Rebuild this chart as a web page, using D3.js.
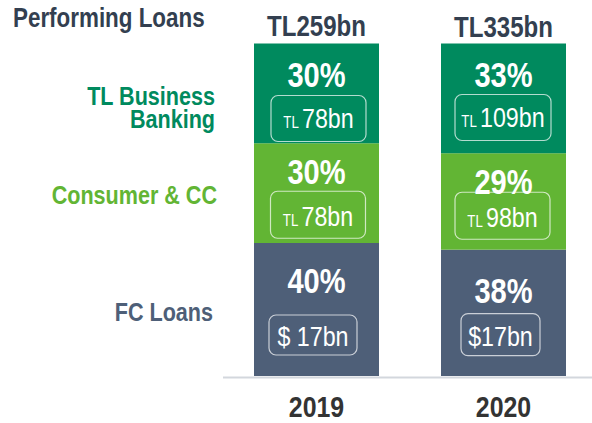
<!DOCTYPE html>
<html>
<head>
<meta charset="utf-8">
<script src="https://cdn.jsdelivr.net/npm/d3@7"></script>
<style>
  body { margin: 0; background: #fff; }
  svg { display: block; }
  text { font-family: "Liberation Sans", Arial, sans-serif; }
</style>
</head>
<body>
<script>
    // chart data
    var years = ["2019", "2020"]
    var totals = ["TL259bn", "TL335bn"]
    var segments = ["fc", "consumer", "business"]   // bottom to top
    var segmentNames = ["FC Loans", "Consumer & CC", "TL Business Banking"]
    var share2019 = [40, 30, 30]
    var share2020 = [38, 29, 33]
    var amountCcy = [["$", "TL", "TL"], ["$", "TL", "TL"]]
    var amount2019 = [" 17bn", "78bn", "78bn"]
    var amount2020 = ["17bn", "98bn", "109bn"]

    var colors = { business: "#008a5e", consumer: "#62b534", fc: "#4e5f78" }

    var width = 592, height = 423
    var squeeze = 0.83   // fake the narrow face of the original deck

    // label placement inside segments: [year][segment] offsets from segment top
    var pctOffset = [[50, 41, 44], [53, 41, 44]]
    var boxOffset = [[72, 48, 52], [64, 39, 51]]
    var boxSize = [[[88, 40], [95, 47], [95, 46]], [[79, 42], [95, 47], [96, 46]]]
    var boxShift = [[-3.5, 1.5, 2], [-3, -1, -0.5]]
    var amtOffset = [[31, 35, 33], [32, 35, 33]]

    var svg = d3.select("body").append("svg")
        .attr("width", width)
        .attr("height", height)

    var x = d3.scaleBand().domain(years).range([254, 566]).paddingInner(0.3316).paddingOuter(0)
    var y = d3.scaleLinear().domain([0, 100]).range([376, 43.5])

    var rows = years.map(function (yr, i) {
        var shares = i == 0 ? share2019 : share2020
        var amts = i == 0 ? amount2019 : amount2020
        var o = { year: yr, idx: i }
        segments.forEach(function (s, j) { o[s] = shares[j] })
        o.amts = amts
        o.ccy = amountCcy[i]
        return o
    })

    var stacked = d3.stack().keys(segments)(rows)

    // bars
    var layer = svg.selectAll(".layer")
        .data(stacked)
        .enter().append("g")
        .attr("fill", function (d) { return colors[d.key] })

    layer.selectAll("rect")
        .data(function (d) { return d })
        .enter().append("rect")
        .attr("x", function (d) { return x(d.data.year) })
        .attr("width", x.bandwidth())
        .attr("y", function (d) { return y(d[1]) })
        .attr("height", function (d) { return y(d[0]) - y(d[1]) })

    // labels inside each segment
    stacked.forEach(function (ser, j) {
        ser.forEach(function (d, i) {
            var cx = x(d.data.year) + x.bandwidth() / 2
            var top = y(d[1])
            var g = svg.append("g")
            g.append("text")
                .attr("x", cx)
                .attr("y", top + pctOffset[i][j])
                .attr("text-anchor", "middle")
                .attr("fill", "white")
                .attr("font-weight", "bold")
                .attr("font-size", 35)
                .text(d.data[ser.key] + "%")

            var bw = boxSize[i][j][0], bh = boxSize[i][j][1]
            var by = top + boxOffset[i][j]
            var bx = cx + boxShift[i][j]
            g.append("rect")
                .attr("x", bx - bw / 2)
                .attr("y", by)
                .attr("width", bw)
                .attr("height", bh)
                .attr("rx", 7)
                .attr("fill", "none")
                .attr("stroke", "rgba(255,255,255,0.7)")
                .attr("stroke-width", 1.2)

            var t = g.append("text")
                .attr("x", bx)
                .attr("y", by + amtOffset[i][j])
                .attr("text-anchor", "middle")
                .attr("fill", "white")
            var ccy = d.data.ccy[j]
            if (ccy == "TL") {
                t.append("tspan").attr("font-size", 16).text("TL ")
                t.append("tspan").attr("font-size", 28).text(d.data.amts[j])
            } else {
                t.append("tspan").attr("font-size", 28).text(ccy + d.data.amts[j])
            }
        })
    })

    // totals above bars
    svg.selectAll(".total")
        .data(years)
        .enter().append("text")
        .attr("x", function (d) { return x(d) + x.bandwidth() / 2 })
        .attr("y", function (d, i) { return i == 0 ? 36 : 37 })
        .attr("text-anchor", "middle")
        .attr("font-weight", "bold")
        .attr("font-size", 29)
        .attr("fill", "#333f50")
        .text(function (d, i) { return totals[i] })

    // baseline + year axis
    svg.append("line")
        .attr("x1", 223).attr("x2", 592)
        .attr("y1", 377.5).attr("y2", 377.5)
        .attr("stroke", "#d3d7dd")
        .attr("stroke-width", 2)

    var xAxis = svg.append("g")
        .attr("transform", "translate(0,378)")
        .call(d3.axisBottom(x).tickSize(0).tickPadding(39))
    xAxis.select(".domain").remove()
    xAxis.selectAll("text")
        .attr("font-family", "Liberation Sans, Arial, sans-serif")
        .attr("font-size", 30)
        .attr("font-weight", "bold")
        .attr("fill", "#333")
        .attr("dy", 0)

    // left side labels
    svg.append("text")
        .attr("x", 13).attr("y", 27)
        .attr("font-weight", "bold")
        .attr("font-size", 27)
        .attr("fill", "#333f50")
        .text("Performing Loans")

    var sideLabels = [
        { lines: ["FC Loans"], y: 321, right: 213 },
        { lines: ["Consumer & CC"], y: 204, right: 217 },
        { lines: ["TL Business", "Banking"], y: 105, right: 215 }
    ]
    sideLabels.forEach(function (l, i) {
        var t = svg.append("text")
            .attr("x", l.right)
            .attr("y", l.y)
            .attr("text-anchor", "end")
            .attr("font-weight", "bold")
            .attr("font-size", 26)
            .attr("fill", colors[segments[i]])
        l.lines.forEach(function (s, k) {
            t.append("tspan").attr("x", l.right).attr("dy", k == 0 ? 0 : 23).text(s)
        })
    })

    // squeeze every text horizontally around its own x
    svg.selectAll("text").each(function () {
        var el = d3.select(this)
        var x0 = +(el.attr("x") || 0)
        el.attr("x", x0 / squeeze).attr("transform", "scale(" + squeeze + ",1)")
        el.selectAll("tspan").each(function () {
            var ts = d3.select(this)
            if (ts.attr("x") != null) ts.attr("x", +ts.attr("x") / squeeze)
        })
    })
</script>
</body>
</html>
